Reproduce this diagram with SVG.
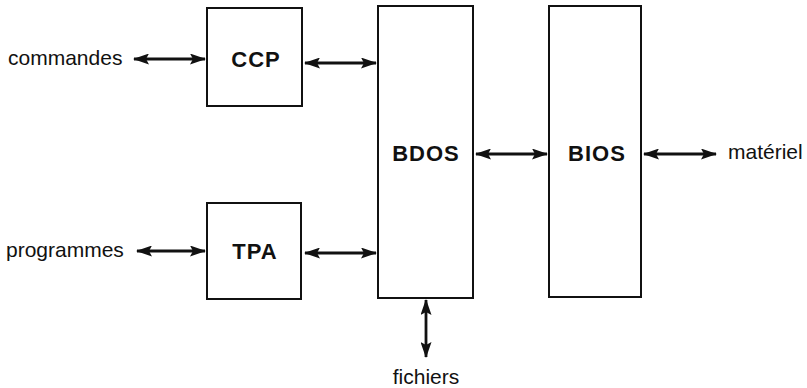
<svg xmlns="http://www.w3.org/2000/svg" width="807" height="388" viewBox="0 0 807 388">
<defs>
<style>
.box{fill:#fff;stroke:#111;stroke-width:2}
.lbl{font-family:"Liberation Sans",Arial,sans-serif;font-size:21px;fill:#111}
.nm{font-family:"Liberation Sans",Arial,sans-serif;font-size:22px;font-weight:bold;letter-spacing:1px;fill:#111;text-anchor:middle}
.con{stroke:#111;stroke-width:2.8;fill:none;marker-start:url(#ah);marker-end:url(#ah)}
</style>
<marker id="ah" viewBox="0 0 16 11" refX="15" refY="5.5" markerWidth="16" markerHeight="11" markerUnits="userSpaceOnUse" orient="auto-start-reverse">
<path d="M0,0 L16,5.5 L0,11 L3,5.5 Z" fill="#111"/>
</marker>
</defs>
<rect width="807" height="388" fill="#fff"/>
<g id="ccp"><rect class="box" x="207" y="8" width="95" height="98"/><text class="nm" x="256" y="67">CCP</text></g>
<g id="tpa"><rect class="box" x="207" y="203" width="94" height="96"/><text class="nm" x="255" y="259">TPA</text></g>
<g id="bdos"><rect class="box" x="378" y="6" width="95" height="292"/><text class="nm" x="426" y="161">BDOS</text></g>
<g id="bios"><rect class="box" x="549" y="6" width="92" height="291"/><text class="nm" x="597" y="161">BIOS</text></g>
<g id="labels">
<text class="lbl" x="8" y="65">commandes</text>
<text class="lbl" x="6" y="257">programmes</text>
<text class="lbl" x="728" y="159">matériel</text>
<text class="lbl" x="426" y="384" text-anchor="middle">fichiers</text>
</g>
<g id="connectors">
<line class="con" x1="134" y1="59" x2="205" y2="59"/>
<line class="con" x1="305" y1="63" x2="376" y2="63"/>
<line class="con" x1="137" y1="251" x2="205" y2="251"/>
<line class="con" x1="305" y1="253" x2="376" y2="253"/>
<line class="con" x1="476" y1="154" x2="547" y2="154"/>
<line class="con" x1="644" y1="154" x2="716" y2="154"/>
<line class="con" x1="426" y1="300" x2="426" y2="357"/>
</g>
</svg>
